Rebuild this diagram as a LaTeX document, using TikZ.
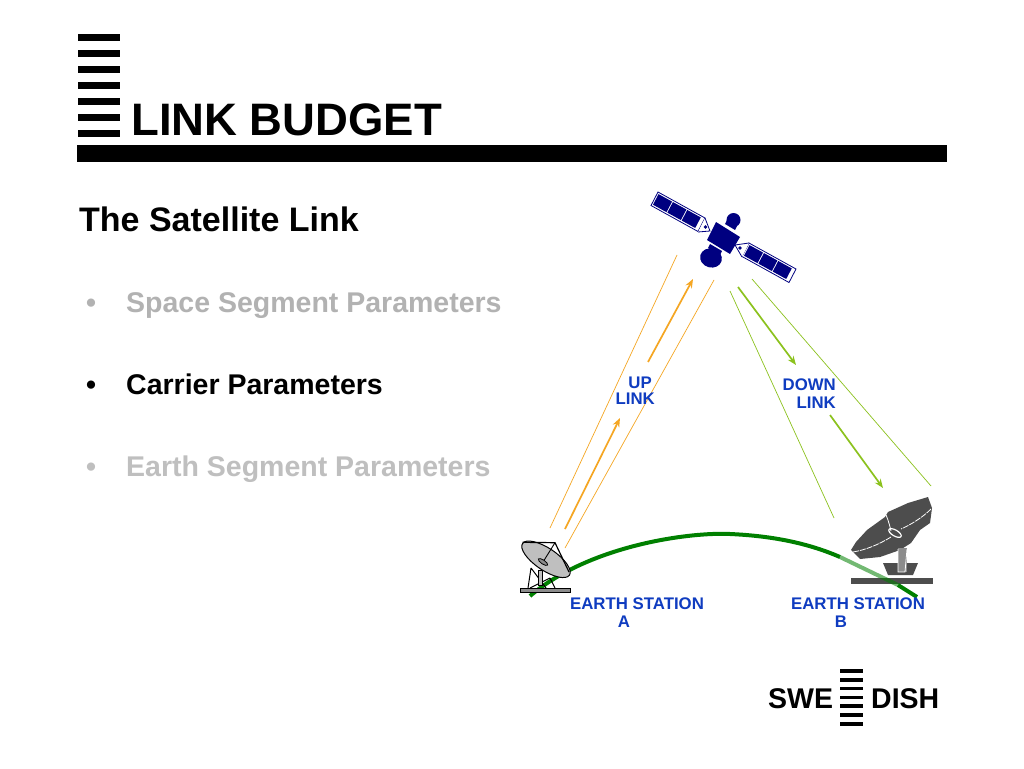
\documentclass[tikz,border=0pt]{standalone}
\usepackage{fontspec}
\setmainfont{Liberation Sans}
\usetikzlibrary{arrows.meta}
\definecolor{navy}{HTML}{000080}
\definecolor{lblue}{HTML}{0F3CC0}
\definecolor{upor}{HTML}{F5A623}
\definecolor{dngr}{HTML}{8CC21E}
\definecolor{arcg}{HTML}{008000}
\definecolor{dishg}{HTML}{4D4D4D}
\tikzset{
 txt/.style={font=\bfseries\fontsize{#1}{#1}\selectfont,inner sep=0pt,anchor=base west},
 lab/.style={font=\bfseries\fontsize{16.8}{16.8}\selectfont,text=lblue,inner sep=0pt,anchor=base},
 thinup/.style={draw=upor,line width=.7pt},
 thickup/.style={draw=upor,line width=1.7pt,-{Stealth[length=9pt,width=7pt]}},
 thindn/.style={draw=dngr,line width=.7pt},
 thickdn/.style={draw=dngr,line width=1.7pt,-{Stealth[length=9pt,width=7pt]}},
 pan/.style={draw=navy,fill=white,line width=.8pt},
 wht/.style={draw=white,line width=.8pt},
}
% solar panel from its top-left corner
\newcommand\solarpnl[2]{%
  \draw[pan] (#1,#2) -- ({#1+47},{#2+26}) -- ({#1+47-7},{#2+26+13.5}) -- ({#1-7},{#2+13.5}) -- cycle;
  \foreach \s in {1.5,18,34.5}{
    \fill[navy] ({#1+.87*\s-.75},{#2+.48*\s+1.42})
      -- ({#1+.87*(\s+15.5)-.75},{#2+.48*(\s+15.5)+1.42})
      -- ({#1+.87*(\s+15.5)-6.3},{#2+.48*(\s+15.5)+12})
      -- ({#1+.87*\s-6.3},{#2+.48*\s+12}) -- cycle;
  }
}
\begin{document}
\begin{tikzpicture}[x=1pt,y=-1pt]
\useasboundingbox (0,0) rectangle (1024,768);
\fill[white] (0,0) rectangle (1024,768);
% header
\foreach \y in {34,50,66,82,98,114,130}{\fill[black] (78,\y) rectangle (120,\y+7);}
\fill[black] (77,145) rectangle (947,162);
\node[txt=45.5] (title) at (131,135) {LINK BUDGET};
\node[txt=34] (sub) at (79,231.5) {The Satellite Link};
\node[txt=28.5,text=black!30] (b1) at (86,312) {•};
\node[txt=28.5,text=black!30] (t1) at (126,312) {Space Segment Parameters};
\node[txt=28.5,text=black] (b2) at (86,394) {•};
\node[txt=28.5,text=black] (t2) at (126,394) {Carrier Parameters};
\node[txt=28.5,text=black!25] (b3) at (86,476) {•};
\node[txt=28.5,text=black!25] (t3) at (126,476) {Earth Segment Parameters};
% beams
\coordinate (u1a) at (677,255); \coordinate (u1b) at (550,528);
\coordinate (u2a) at (714,280); \coordinate (u2b) at (565,548);
\coordinate (u3a) at (648,362); \coordinate (u3b) at (693,279);
\coordinate (u4a) at (565,529); \coordinate (u4b) at (620,418);
\coordinate (d1a) at (730,291); \coordinate (d1b) at (834,518);
\coordinate (d2a) at (752,279); \coordinate (d2b) at (931,486);
\coordinate (d3a) at (738,287); \coordinate (d3b) at (796,365);
\coordinate (d4a) at (830,415); \coordinate (d4b) at (883,488);
\draw[thinup] (u1a) -- (u1b);
\draw[thinup] (u2a) -- (u2b);
\draw[thickup] (u3a) -- (u3b);
\draw[thickup] (u4a) -- (u4b);
\draw[thindn] (d1a) -- (d1b);
\draw[thindn] (d2a) -- (d2b);
\draw[thickdn] (d3a) -- (d3b);
\draw[thickdn] (d4a) -- (d4b);
% satellite
\solarpnl{658}{192}
\solarpnl{749}{243}
\draw[pan] (705,218) -- (710,231) -- (698,232);
\fill[navy] (705.5,227) circle (1.8);
\draw[pan] (749,243) -- (735,245) -- (742,257);
\fill[navy] (740,248) circle (1.8);
\fill[navy] (716,222) -- (740,237) -- (730,254) -- (707,240) -- cycle;
\fill[navy] (725,224) -- (735,230) -- (737,226) -- (727,220) -- cycle;
\fill[navy] (710,244) -- (722,251) -- (720,255) -- (708,248) -- cycle;
\fill[navy] (733.5,220) circle (7);
\fill[navy,rotate around={-15:(711,258)}] (711,258) ellipse (11 and 9.5);
% dish B
\fill[dishg] (928,497) -- (932,508) -- (930,523) -- (920,530) -- (911,543) -- (900,550)
  -- (880,557) -- (860,559) -- (851,550) -- (856,542) -- (867,530) -- (885,517) -- (888,512) -- (908,503) -- cycle;
\draw[wht] (886,515) .. controls (889,522) and (890,527) .. (891,531);
\draw[wht,dash pattern=on 6pt off 1pt] (931,509) .. controls (922,518) and (910,525) .. (901,529);
\draw[wht,dash pattern=on 6pt off 1pt] (891,537) .. controls (878,545) and (865,550) .. (853,552);
\draw[wht,line width=1.2pt,rotate around={-30:(895,533)}] (895,533) ellipse (7 and 3);
\fill[dishg] (883,563) -- (918,563) -- (913,575) -- (888,575) -- cycle;
\fill[black!45] (898,548) rectangle (907,572);
\draw[wht] (898,549) -- (898,572) -- (905,572) -- (907,549);
\fill[dishg] (851,578) rectangle (933,584);
% arc
\draw[arcg,line width=4pt] (530,596) .. controls (590,545) and (690,532) .. (730,534)
  .. controls (775,536) and (810,544) .. (840,557);
\draw[arcg,opacity=.55,line width=4pt] (840,557) -- (898,585);
\draw[arcg,line width=4pt] (898,585) -- (917,597);
% dish A
\draw[black,line width=1pt] (531,568) -- (528,588) (531,568) -- (546,588) (550,578) -- (530,588) (550,578) -- (555,588);
\fill[black!25] (538,570) rectangle (542,585);
\draw[black,line width=.7pt] (538,570) rectangle (542,585);
\draw[black,fill=black!45,line width=.8pt] (520,588) rectangle (570,592);
\draw[black,fill=black!25,line width=1pt,rotate around={-34:(546,559.3)}] (546,559.3) ellipse (28.3 and 11);
\draw[black,line width=1.2pt] (522.7,542.3) -- (555,542.7) -- (569,572);
\draw[black,line width=.9pt] (555,542.7) -- (543,562);
\draw[black,fill=black!45,line width=.8pt,rotate around={-34:(543,562)}] (543,562) ellipse (5.5 and 2);
% labels
\node[lab,anchor=base east] (up) at (652,388) {UP};
\node[lab,anchor=base east] (lk1) at (655,404) {LINK};
\node[lab,anchor=base east] (dn) at (836,390) {DOWN};
\node[lab,anchor=base east] (lk2) at (836,408) {LINK};
\node[lab] (ea) at (637,609) {EARTH STATION};
\node[lab] (eaa) at (624,627) {A};
\node[lab] (eb) at (858,609) {EARTH STATION};
\node[lab] (ebb) at (841,627) {B};
% logo
\foreach \y in {669.2,677.9,686.5,695.5,704.2,712.9,721.9}{\fill[black] (840,\y) rectangle (863,\y+3.7);}
\node[txt=28.5] (swe) at (768,708) {SWE};
\node[txt=28.5] (dish) at (871,708) {DISH};
\end{tikzpicture}
\end{document}
